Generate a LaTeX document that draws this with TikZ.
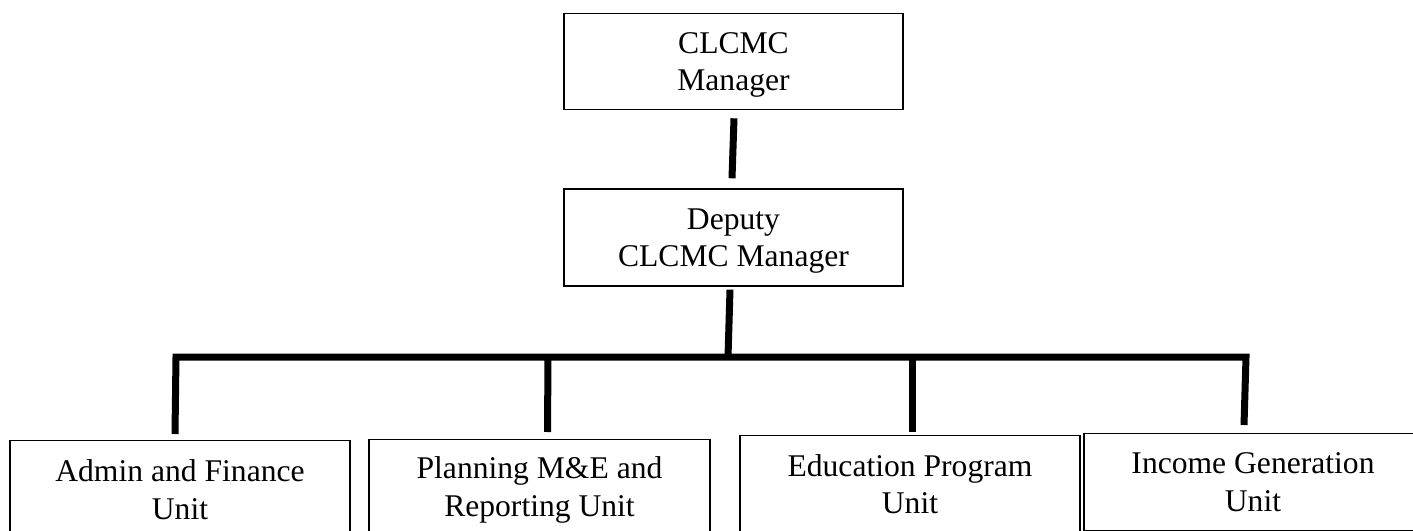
\documentclass[tikz,border=0pt]{standalone}
\usepackage{fontspec}
\setmainfont{Liberation Serif}
\usetikzlibrary{positioning}

\begin{document}
\begin{tikzpicture}[
  x=1pt, y=-1pt, node distance=78pt,
  box/.style={draw, line width=1.3pt, align=center, anchor=north, inner sep=0pt, text depth=0pt, minimum width=340pt, font=\fontsize{31.6}{37.5}\selectfont},
  e/.style={line width=7pt, line join=miter}
]
\useasboundingbox (0,0) rectangle (1413,530);
\node[box, minimum width=339pt, minimum height=96pt] (mgr) at (733.5,13) {CLCMC\\Manager};
\node[box, minimum width=339pt, minimum height=97pt, below=of mgr] (dep) {Deputy\\CLCMC Manager};
\node[box, minimum height=98pt] (admin) at (180,440) {Admin and Finance\\Unit};
\node[box, minimum width=341pt, minimum height=93.5pt] (plan) at (539.5,439) {Planning M\&E and\\Reporting Unit};
\node[box, minimum height=96.5pt] (edu) at (910,435) {Education Program\\Unit};
\node[box, minimum width=338pt, minimum height=96.5pt] (inc) at (1253,433) {Income Generation\\Unit};
\coordinate (bl) at (176,357);
\coordinate (br) at (1246,357);
\coordinate (hub) at (728,357);
\coordinate (j2) at (548,357);
\coordinate (j3) at (912,357);
\draw[e] ([xshift=0.5pt,yshift=-8pt]mgr.south) -- ([xshift=-1.5pt,yshift=10pt]dep.north);
\draw[e] ([xshift=-3.5pt,yshift=-3pt]dep.south) -- (hub);
\draw[e] ([xshift=-5pt,yshift=6pt]admin.north) -- (bl) -- (br) -- ([xshift=-9pt,yshift=8pt]inc.north);
\draw[e] (j2) -- ([xshift=8pt,yshift=7pt]plan.north);
\draw[e] (j3) -- ([xshift=2pt,yshift=3pt]edu.north);
\end{tikzpicture}
\end{document}
